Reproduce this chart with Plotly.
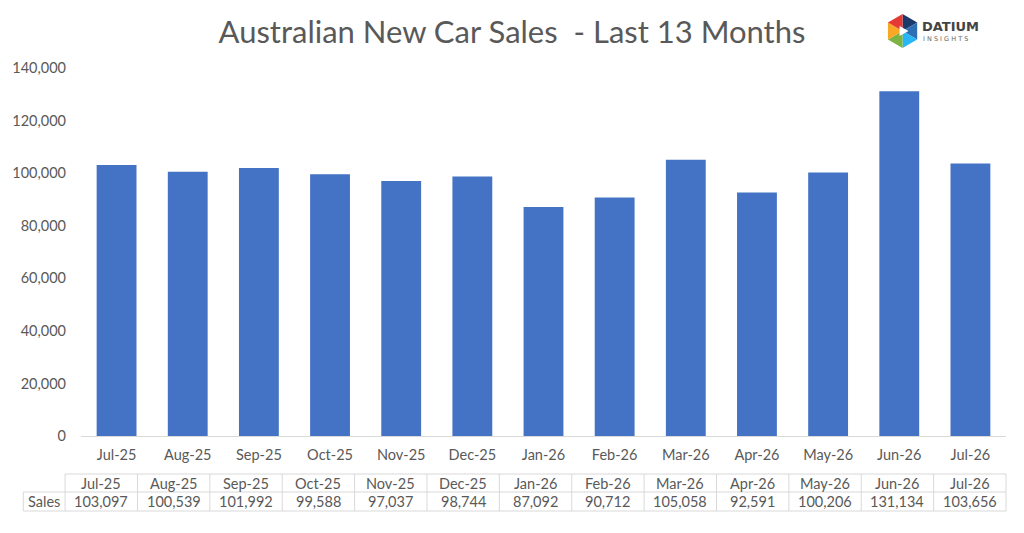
import math
import plotly.graph_objects as go

months = ["Jul-25", "Aug-25", "Sep-25", "Oct-25", "Nov-25", "Dec-25", "Jan-26",
          "Feb-26", "Mar-26", "Apr-26", "May-26", "Jun-26", "Jul-26"]
sales = [103097, 100539, 101992, 99588, 97037, 98744, 87092,
         90712, 105058, 92591, 100206, 131134, 103656]
y_ticks = [0, 20000, 40000, 60000, 80000, 100000, 120000, 140000]
series_name = "Sales"

W, H = 1024, 533
L, R, T, B = 76, 1006, 68, 436
FONT = "Lato"
GREY = "#595959"
BORDER = "#D9D9D9"


def px(x):
    return (x - L) / (R - L)


def py(y):
    return (B - y) / (B - T)


fig = go.Figure()
fig.add_trace(go.Bar(x=months, y=sales, marker_color="#4472C4",
                     marker_line_width=0, name=series_name, hoverinfo="x+y"))

shapes = []
annotations = []

# data table
tab_left, tab_right = 60, 1006
lab_left = 18
row_top, row_mid, row_bot = 474, 492, 511
ncol = len(months)
cw = (tab_right - tab_left) / ncol
line = dict(color=BORDER, width=1)
shapes.append(dict(type="line", xref="paper", yref="paper", x0=px(tab_left), x1=px(tab_right),
                   y0=py(row_top), y1=py(row_top), line=line))
shapes.append(dict(type="line", xref="paper", yref="paper", x0=px(lab_left), x1=px(tab_right),
                   y0=py(row_mid), y1=py(row_mid), line=line))
shapes.append(dict(type="line", xref="paper", yref="paper", x0=px(lab_left), x1=px(tab_right),
                   y0=py(row_bot), y1=py(row_bot), line=line))
shapes.append(dict(type="line", xref="paper", yref="paper", x0=px(lab_left), x1=px(lab_left),
                   y0=py(row_mid), y1=py(row_bot), line=line))
for i in range(ncol + 1):
    xx = tab_left + i * cw
    shapes.append(dict(type="line", xref="paper", yref="paper", x0=px(xx), x1=px(xx),
                       y0=py(row_top), y1=py(row_bot), line=line))
cell_font = dict(family=FONT, size=14.5, color=GREY)
for i, (m, v) in enumerate(zip(months, sales)):
    cx = tab_left + (i + 0.5) * cw
    annotations.append(dict(xref="paper", yref="paper", x=px(cx), y=py((row_top + row_mid) / 2),
                            text=m, showarrow=False, xanchor="center", yanchor="middle",
                            font=cell_font))
    annotations.append(dict(xref="paper", yref="paper", x=px(cx), y=py((row_mid + row_bot) / 2),
                            text=f"{v:,}", showarrow=False, xanchor="center", yanchor="middle",
                            font=cell_font))
annotations.append(dict(xref="paper", yref="paper", x=px((lab_left + tab_left) / 2),
                        y=py((row_mid + row_bot) / 2), text=series_name, showarrow=False,
                        xanchor="center", yanchor="middle", font=cell_font))

# logo (hexagon of coloured triangles + text)
cx0, cy0, rad = 902, 31, 17
logo_cols = ["#1A3A6B", "#2C6FB5", "#29B6F6", "#7CB342", "#F9A825", "#E53935"]
for k in range(6):
    pts = [(cx0, cy0),
           (cx0 + rad * math.cos(math.radians(-90 + 60 * k)), cy0 + rad * math.sin(math.radians(-90 + 60 * k))),
           (cx0 + rad * math.cos(math.radians(-30 + 60 * k)), cy0 + rad * math.sin(math.radians(-30 + 60 * k)))]
    path = "M " + " L ".join(f"{px(x):.5f},{py(y):.5f}" for x, y in pts) + " Z"
    shapes.append(dict(type="path", xref="paper", yref="paper", path=path,
                       fillcolor=logo_cols[k], line=dict(width=0)))
inner = [(cx0 - 3, cy0 - 5), (cx0 + 6, cy0), (cx0 - 3, cy0 + 5)]
shapes.append(dict(type="path", xref="paper", yref="paper",
                   path="M " + " L ".join(f"{px(x):.5f},{py(y):.5f}" for x, y in inner) + " Z",
                   fillcolor="white", line=dict(width=0)))
annotations.append(dict(xref="paper", yref="paper", x=px(920), y=py(27), text="<b>DATIUM</b>",
                        showarrow=False, xanchor="left", yanchor="middle",
                        font=dict(family="DejaVu Sans", size=13, color="#444444")))
annotations.append(dict(xref="paper", yref="paper", x=px(921), y=py(39),
                        text="I N S I G H T S", showarrow=False, xanchor="left", yanchor="middle",
                        font=dict(family="DejaVu Sans", size=6.5, color="#666666")))

fig.update_layout(
    width=W, height=H,
    margin=dict(l=L, r=W - R, t=T, b=H - B),
    paper_bgcolor="white", plot_bgcolor="white",
    showlegend=False,
    bargap=0.44,
    title=dict(text="Australian New Car Sales \u00a0- Last 13 Months", x=0.5, xanchor="center",
               y=1 - 32 / H, yanchor="middle",
               font=dict(family=FONT, size=31, color=GREY)),
    xaxis=dict(showline=True, linecolor=BORDER, linewidth=1, ticks="", showgrid=False,
               ticklabelstandoff=6,
               tickfont=dict(family=FONT, size=14.5, color=GREY), fixedrange=True),
    yaxis=dict(range=[0, 140000], tickvals=y_ticks, tickformat=",", showgrid=False,
               zeroline=False, showline=False, ticks="", ticklabelstandoff=14,
               tickfont=dict(family=FONT, size=14.5, color=GREY), fixedrange=True),
    shapes=shapes, annotations=annotations,
)

fig.write_html("out.html", config={"displayModeBar": False},
               post_script="document.body.style.margin='0';")
